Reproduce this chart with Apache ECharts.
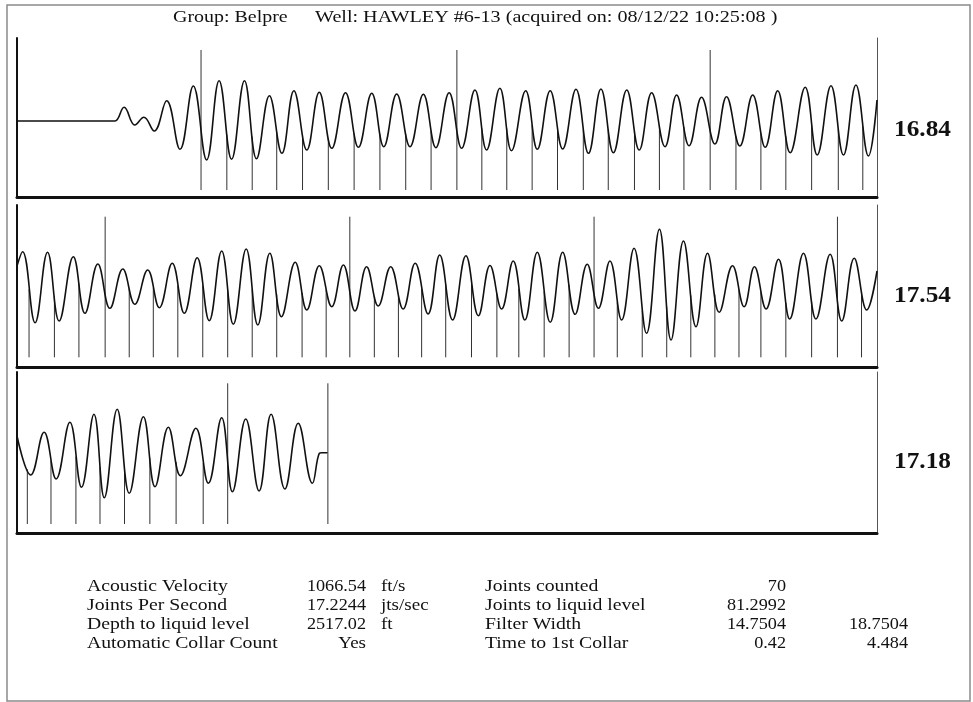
<!DOCTYPE html>
<html>
<head>
<meta charset="utf-8">
<script src="https://cdn.jsdelivr.net/npm/echarts@6/dist/echarts.min.js"></script>
<style>
html,body{margin:0;padding:0;background:#fff;}
#chart{width:973px;height:702px;}
</style>
</head>
<body>
<div id="chart"></div>
<script>
// ---- Panel 1 (seconds 0-2) : waveform extrema ----
const p1Times = [0, 0.21, 0.228, 0.249, 0.274, 0.295, 0.319, 0.348, 0.379, 0.410, 0.441, 0.470, 0.499, 0.529, 0.557, 0.587, 0.616, 0.644, 0.674, 0.703, 0.732, 0.764, 0.794, 0.825, 0.853, 0.883, 0.914, 0.945, 0.974, 1.005, 1.034, 1.065, 1.092, 1.123, 1.150, 1.183, 1.210, 1.240, 1.269, 1.300, 1.329, 1.358, 1.387, 1.418, 1.447, 1.476, 1.507, 1.534, 1.563, 1.592, 1.623, 1.650, 1.681, 1.711, 1.740, 1.769, 1.798, 1.833, 1.861, 1.893, 1.922, 1.951, 1.980, 2.0];
const p1Amps  = [0, 0, 0, 13.7, -4, 3.7, -10, 20.3, -28.3, 35, -39, 40.3, -38.3, 40.3, -37.7, 25.3, -32.3, 30.3, -29, 28.7, -27.3, 28.3, -26.3, 27.7, -25.7, 27, -25.7, 26.7, -26.7, 28.3, -27.3, 31, -29, 32.7, -29.7, 30.3, -28.3, 30.3, -28, 31.7, -32.3, 32, -31.7, 31, -29, 28.3, -25.7, 26, -24.7, 23.7, -23, 24.3, -25, 26, -26.3, 30.3, -31.7, 33.7, -34, 35.3, -34, 36, -35, 21];
const p1ShortMarks = [0.488, 0.547, 0.604, 0.664, 0.724, 0.784, 0.844, 0.904, 0.963, 1.081, 1.139, 1.198, 1.257, 1.317, 1.375, 1.436, 1.494, 1.551, 1.672, 1.730, 1.788, 1.848, 1.910, 1.967];
const p1TallMarks = [0.428, 1.023, 1.612];

// ---- Panel 2 ----
const p2Times = [0, 0.013, 0.042, 0.071, 0.098, 0.131, 0.158, 0.188, 0.216, 0.246, 0.274, 0.304, 0.331, 0.361, 0.389, 0.419, 0.447, 0.476, 0.503, 0.533, 0.560, 0.588, 0.615, 0.647, 0.674, 0.703, 0.732, 0.759, 0.786, 0.813, 0.840, 0.869, 0.898, 0.926, 0.956, 0.983, 1.013, 1.044, 1.073, 1.100, 1.127, 1.154, 1.181, 1.210, 1.240, 1.269, 1.298, 1.326, 1.352, 1.379, 1.406, 1.435, 1.464, 1.494, 1.521, 1.550, 1.579, 1.606, 1.633, 1.664, 1.691, 1.715, 1.742, 1.771, 1.797, 1.829, 1.858, 1.891, 1.918, 1.947, 1.976, 2.0];
const p2Amps  = [20, 34.3, -36.7, 33.7, -35, 29.3, -27.3, 22, -22.3, 17, -18.3, 16, -21.7, 22.7, -27.3, 28.3, -34.7, 35, -38.3, 37, -39, 32.7, -30.7, 23.7, -24, 20.3, -20.7, 21, -25, 19.3, -20, 19.3, -23, 22.7, -28, 31, -34, 30.3, -29.7, 20.5, -23, 25, -34, 33.7, -36.3, 33.7, -28.3, 21.7, -22.3, 25, -34, 37.7, -47.3, 56.7, -54, 45, -40.7, 32.7, -26.3, 20.3, -20.7, 19.3, -23, 26.7, -33, 32.7, -33, 31.7, -35, 27.7, -24, 15];
const p2ShortMarks = [0.028, 0.087, 0.144, 0.261, 0.317, 0.374, 0.432, 0.490, 0.547, 0.604, 0.663, 0.719, 0.831, 0.887, 0.941, 0.997, 1.057, 1.116, 1.167, 1.226, 1.284, 1.396, 1.454, 1.511, 1.567, 1.623, 1.679, 1.730, 1.788, 1.848, 1.964];
const p2TallMarks = [0.205, 0.774, 1.342, 1.908];

// ---- Panel 3 ----
const p3Times = [0, 0.032, 0.063, 0.091, 0.123, 0.150, 0.179, 0.203, 0.233, 0.261, 0.294, 0.321, 0.352, 0.380, 0.416, 0.445, 0.476, 0.501, 0.532, 0.563, 0.591, 0.623, 0.654, 0.687, 0.703, 0.709, 0.722];
const p3Amps  = [16, -23, 19.7, -27, 29.7, -35.3, 37.7, -45.7, 42.7, -41.3, 35.3, -34.7, 24.7, -23.7, 23.7, -31.3, 34.3, -39.7, 33, -39, 37.7, -37, 28.7, -31.3, -1.3, -0.7, -0.7];
const p3ShortMarks = [0.024, 0.079, 0.137, 0.193, 0.250, 0.309, 0.370, 0.433];
const p3TallMarks = [0.490, 0.723];

const panelLabels = ['16.84', '17.54', '17.18'];

const titleParts = ['Group: Belpre', 'Well: HAWLEY #6-13 (acquired on: 08/12/22 10:25:08 )'];

const tableNames1 = ['Acoustic Velocity', 'Joints Per Second', 'Depth to liquid level', 'Automatic Collar Count'];
const tableValues1 = ['1066.54', '17.2244', '2517.02', 'Yes'];
const tableUnits1 = ['ft/s', 'jts/sec', 'ft', ''];
const tableNames2 = ['Joints counted', 'Joints to liquid level', 'Filter Width', 'Time to 1st Collar'];
const tableValues2 = ['70', '81.2992', '14.7504', '0.42'];
const tableValues3 = ['', '', '18.7504', '4.484'];

// ---- layout ----
const panels = [
  {top: 38, height: 159, yMin: -76, yMax: 83, times: p1Times, amps: p1Amps, shortM: p1ShortMarks, tallM: p1TallMarks, tallTop: 71, bottom: -69, labelY: 130},
  {top: 205, height: 162, yMin: -81, yMax: 81, times: p2Times, amps: p2Amps, shortM: p2ShortMarks, tallM: p2TallMarks, tallTop: 69.3, bottom: -71.3, labelY: 296},
  {top: 372, height: 161, yMin: -81, yMax: 80, times: p3Times, amps: p3Amps, shortM: p3ShortMarks, tallM: p3TallMarks, tallTop: 68.7, bottom: -72, labelY: 462}
];

function waveAt(times, amps, t) {
  for (let i = 0; i < times.length - 1; i++) {
    if (t >= times[i] && t <= times[i + 1]) {
      const f = (t - times[i]) / (times[i + 1] - times[i]);
      const mu = (1 - Math.cos(Math.PI * f)) / 2;
      return amps[i] * (1 - mu) + amps[i + 1] * mu;
    }
  }
  return amps[amps.length - 1];
}

const grids = [], xAxes = [], yAxes = [], series = [];
panels.forEach((p, i) => {
  grids.push({left: 17, width: 860, top: p.top, height: p.height});
  xAxes.push({type: 'value', gridIndex: i, min: 0, max: 2,
    axisLine: {show: true, onZero: false, lineStyle: {color: '#111', width: 3}},
    axisTick: {show: false}, axisLabel: {show: false}, splitLine: {show: false}});
  yAxes.push({type: 'value', gridIndex: i, min: p.yMin, max: p.yMax, position: 'left',
    axisLine: {show: true, onZero: false, lineStyle: {color: '#111', width: 2}},
    axisTick: {show: false}, axisLabel: {show: false}, splitLine: {show: false}});
  yAxes.push({type: 'value', gridIndex: i, min: p.yMin, max: p.yMax, position: 'right',
    axisLine: {show: true, onZero: false, lineStyle: {color: '#555', width: 1}},
    axisTick: {show: false}, axisLabel: {show: false}, splitLine: {show: false}});
  const markData = [];
  p.shortM.forEach(t => markData.push([t, waveAt(p.times, p.amps, t), p.bottom]));
  p.tallM.forEach(t => markData.push([t, p.tallTop, p.bottom]));
  series.push({
    type: 'custom', xAxisIndex: i, yAxisIndex: 2 * i, silent: true, z: 2,
    encode: {x: 0, y: [1, 2]},
    data: markData,
    renderItem: function (params, api) {
      const a = api.coord([api.value(0), api.value(1)]);
      const b = api.coord([api.value(0), api.value(2)]);
      return {type: 'line', shape: {x1: a[0], y1: a[1], x2: b[0], y2: b[1]},
        style: {stroke: '#333', lineWidth: 1}};
    }
  });
  series.push({
    type: 'line', xAxisIndex: i, yAxisIndex: 2 * i, z: 3,
    data: p.times.map((t, k) => [t, p.amps[k]]),
    smooth: 0.42, showSymbol: false, symbol: 'none',
    lineStyle: {color: '#111', width: 1.6}
  });
});

const serif = '"Liberation Serif", "Times New Roman", serif';
function txt(x, y, text, size, align, sx, bold) {
  return {type: 'text', x: x, y: y, scaleX: sx, z: 10,
    style: {text: text, font: (bold ? 'bold ' : '') + size + 'px ' + serif, fill: '#111',
      textAlign: align, textVerticalAlign: 'middle', verticalAlign: 'middle'}};
}

const graphics = [
  {type: 'rect', shape: {x: 7, y: 5, width: 963, height: 696}, z: 0,
    style: {fill: 'none', stroke: '#8a8a8a', lineWidth: 1.5}},
  txt(173, 17, titleParts[0], 17.5, 'left', 1.14, false),
  txt(315, 17, titleParts[1], 17.5, 'left', 1.15, false)
];
panels.forEach((p, i) => graphics.push(txt(894, p.labelY, panelLabels[i], 23, 'left', 1.1, true)));
const rowY = [587, 606, 625, 644];
rowY.forEach((y, r) => {
  graphics.push(txt(87, y, tableNames1[r], 17, 'left', 1.16, false));
  graphics.push(txt(366, y, tableValues1[r], 17, 'right', r === 3 ? 1.12 : 1.07, false));
  if (tableUnits1[r]) graphics.push(txt(381, y, tableUnits1[r], 17, 'left', 1.12, false));
  graphics.push(txt(485, y, tableNames2[r], 17, 'left', 1.16, false));
  graphics.push(txt(786, y, tableValues2[r], 17, 'right', 1.07, false));
  if (tableValues3[r]) graphics.push(txt(908, y, tableValues3[r], 17, 'right', 1.07, false));
});

const chart = echarts.init(document.getElementById('chart'), null, {renderer: 'canvas'});
chart.setOption({
  animation: false,
  backgroundColor: '#fff',
  grid: grids,
  xAxis: xAxes,
  yAxis: yAxes,
  series: series,
  graphic: graphics
});
</script>
</body>
</html>
